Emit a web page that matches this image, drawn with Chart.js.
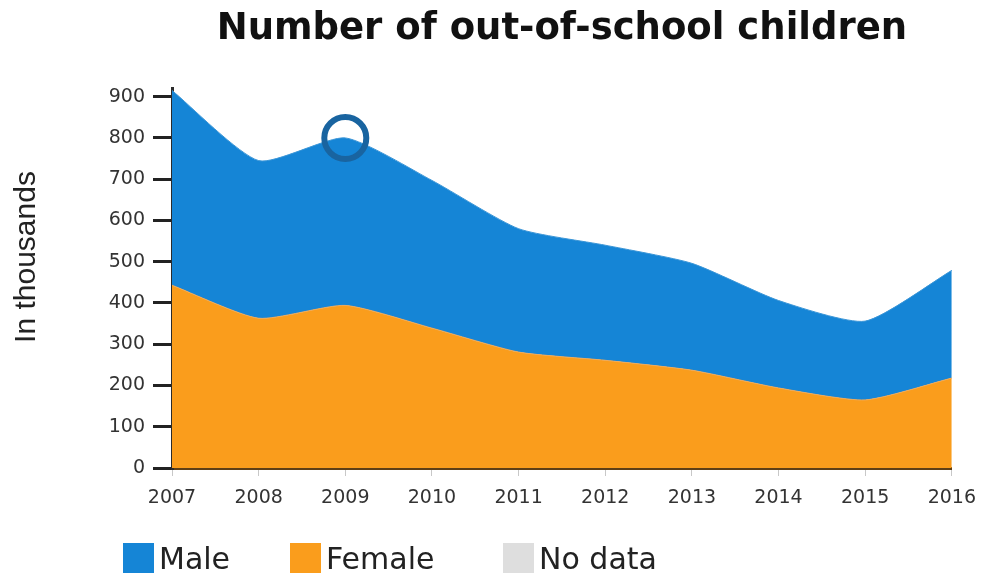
<!DOCTYPE html>
<html>
<head>
<meta charset="utf-8">
<script src="https://cdn.jsdelivr.net/npm/chart.js@4/dist/chart.umd.min.js"></script>
<style>
  body { margin: 0; background: #fff; font-family: "DejaVu Sans", sans-serif; }
  #wrap { position: relative; width: 987px; height: 573px; overflow: hidden; }
  #legend { position: absolute; left: 0; top: 540px; width: 987px; height: 33px; font-size: 30px; color: #222; }
  .item { position: absolute; top: 0; height: 33px; line-height: 38px; }
  .box { position: absolute; top: 3px; left: 0; width: 31px; height: 34px; }
  .item span.lbl { position: absolute; left: 36px; top: 0; white-space: nowrap; }
</style>
</head>
<body>
<div id="wrap">
  <canvas id="outOfSchoolChart" width="987" height="573"></canvas>
  <div id="legend"></div>
</div>
<script>
var years = ['2007', '2008', '2009', '2010', '2011', '2012', '2013', '2014', '2015', '2016'];
// thousands of children
var femaleValues = [443, 363, 394, 339, 281, 261, 237, 194, 165, 218];
var maleValues = [472, 382, 406, 358, 299, 279, 259, 212, 191, 261];
var yTicks = [0, 100, 200, 300, 400, 500, 600, 700, 800, 900];

var blue = 'rgb(21, 133, 214)';
var orange = 'rgb(250, 157, 28)';

// legend is plain html so the boxes sit where the picture has them
var legendItems = [
    { label: 'Male', color: blue, left: 123 },
    { label: 'Female', color: orange, left: 290 },
    { label: 'No data', color: '#dedede', left: 503 }
];
var legendDiv = document.getElementById('legend');
legendItems.forEach(function (it) {
    var d = document.createElement('div');
    d.className = 'item';
    d.style.left = it.left + 'px';
    d.innerHTML = '<div class="box" style="background:' + it.color + '"></div><span class="lbl">' + it.label + '</span>';
    legendDiv.appendChild(d);
});

// y axis caption sits a bit above the middle of the plot in the original
var yCaption = {
    id: 'yCaption',
    afterDraw: function (chart) {
        var ctx = chart.ctx;
        ctx.save();
        ctx.translate(27, 257);
        ctx.rotate(-Math.PI / 2);
        ctx.font = '30px "Liberation Sans"';
        ctx.fillStyle = '#222';
        ctx.textAlign = 'center';
        ctx.textBaseline = 'middle';
        ctx.fillText('In thousands', 0, 0);
        ctx.restore();
    }
};

var outOfSchoolChart = new Chart(document.getElementById('outOfSchoolChart'), {
    type: 'line',
    data: {
        labels: years,
        datasets: [{
            label: 'Female',
            data: femaleValues,
            backgroundColor: orange,
            borderColor: 'rgb(240, 170, 90)',
            borderWidth: 1,
            fill: 'origin',
            tension: 0.2,
            pointRadius: 0
        }, {
            label: 'Male',
            data: maleValues,
            backgroundColor: blue,
            borderColor: 'rgb(60, 150, 215)',
            borderWidth: 1,
            fill: '-1',
            tension: 0.2,
            // the highlighted 2009 point
            pointRadius: [0, 0, 21, 0, 0, 0, 0, 0, 0, 0],
            pointBorderWidth: 6,
            pointBorderColor: 'rgb(25, 100, 160)',
            pointBackgroundColor: 'rgba(0,0,0,0)',
            pointHoverRadius: 0
        }]
    },
    plugins: [yCaption],
    options: {
        responsive: false,
        animation: false,
        layout: { padding: { left: 0, right: 35, top: 0, bottom: 0 } },
        plugins: {
            legend: { display: false },
            tooltip: { enabled: false },
            title: {
                display: true,
                fullSize: false,
                text: 'Number of out-of-school children',
                color: '#111',
                font: { family: 'DejaVu Sans', size: 37, weight: 'bold' },
                padding: { top: 7, bottom: 37 },
                align: 'center'
            }
        },
        scales: {
            x: {
                offset: false,
                afterFit: function (scale) { scale.height = 105; },
                grid: { drawOnChartArea: false, tickLength: 8, color: '#c8c8c8', lineWidth: 1 },
                border: { display: true, color: '#5e3f16', width: 3 },
                ticks: {
                    color: '#333', padding: 11, maxRotation: 0, autoSkip: false,
                    font: { family: 'DejaVu Sans', size: 19 }
                }
            },
            y: {
                stacked: true,
                min: 0,
                max: 920,
                afterFit: function (scale) { scale.width = 172; },
                afterBuildTicks: function (scale) {
                    scale.ticks = yTicks.map(function (v) { return { value: v }; });
                },
                grid: { drawOnChartArea: false, tickLength: 19, color: '#222', lineWidth: 3 },
                border: { display: true, color: '#2b2b2b', width: 3 },
                ticks: {
                    color: '#333', padding: 8,
                    font: { family: 'DejaVu Sans', size: 19 }
                }
            }
        }
    }
});
</script>
</body>
</html>
